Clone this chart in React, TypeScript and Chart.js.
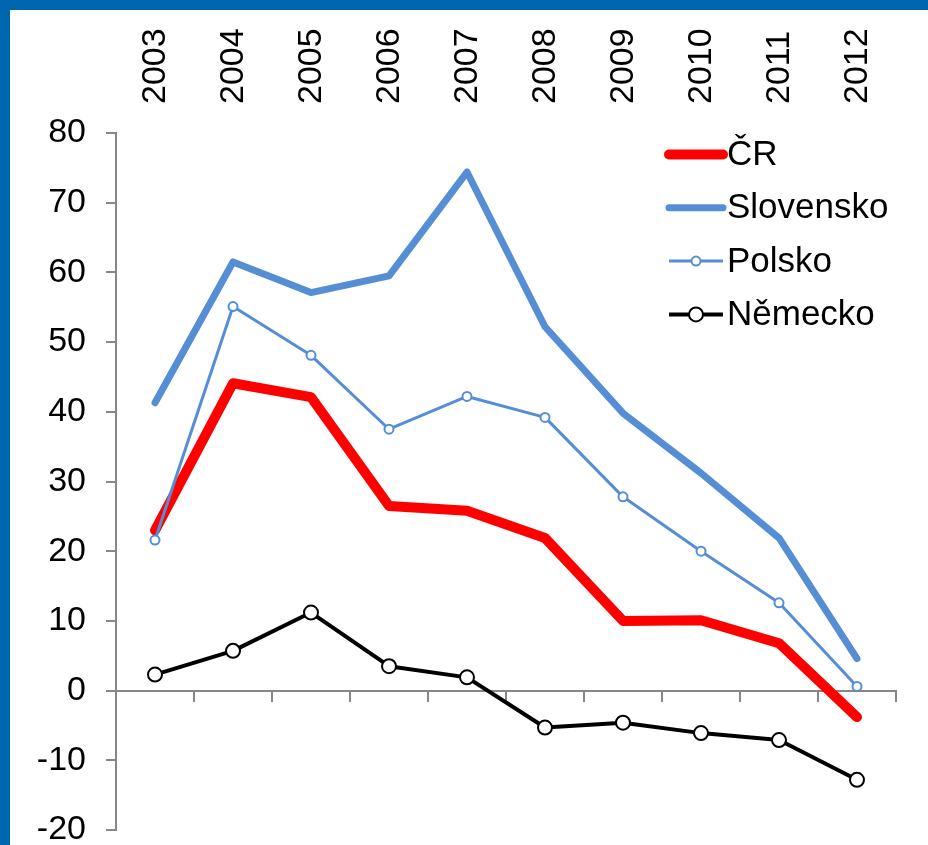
import React, { useEffect, useRef } from "react";
import { Chart, registerables } from "chart.js";

Chart.register(...registerables);

const years = ["2003", "2004", "2005", "2006", "2007", "2008", "2009", "2010", "2011", "2012"];
const cr = [23.0, 44.1, 42.1, 26.5, 25.8, 21.9, 10.0, 10.1, 6.8, -3.8];
const slovensko = [41.3, 61.5, 57.1, 59.5, 74.4, 52.2, 39.8, 31.2, 21.9, 4.6];
const polsko = [21.6, 55.1, 48.1, 37.5, 42.2, 39.2, 27.8, 20.0, 12.6, 0.6];
const nemecko = [2.3, 5.7, 11.2, 3.5, 1.9, -5.3, -4.6, -6.1, -7.1, -12.8];
const seriesNames = ["ČR", "Slovensko", "Polsko", "Německo"];
const yMin = -20;
const yMax = 80;
const yStep = 10;

const FONT = "'Liberation Sans', Arial, sans-serif";
const AXIS_GRAY = "#878787";
const BLUE = "#558ED5";

const legendPlugin = {
  id: "customLegend",
  afterDraw(chart: any) {
    const ctx = chart.ctx;
    const x0 = 659;
    const x1 = 713;
    const top = 144.5;
    const gap = 53.3;
    chart.data.datasets.forEach((ds: any, i: number) => {
      const y = top + i * gap;
      ctx.save();
      ctx.strokeStyle = ds.borderColor;
      ctx.lineWidth = ds.borderWidth;
      ctx.lineCap = ds.pointRadius > 0 ? "butt" : "round";
      ctx.beginPath();
      ctx.moveTo(x0, y);
      ctx.lineTo(x1, y);
      ctx.stroke();
      if (ds.pointRadius > 0) {
        ctx.beginPath();
        ctx.arc((x0 + x1) / 2, y, ds.pointRadius, 0, Math.PI * 2);
        ctx.fillStyle = ds.pointBackgroundColor;
        ctx.fill();
        ctx.lineWidth = ds.pointBorderWidth;
        ctx.strokeStyle = ds.pointBorderColor;
        ctx.stroke();
      }
      ctx.fillStyle = "#000";
      ctx.font = `35px ${FONT}`;
      ctx.textAlign = "left";
      ctx.textBaseline = "middle";
      ctx.fillText(ds.label, x1 + 4, y + 1);
      ctx.restore();
    });
  },
};

export default function App() {
  const ref = useRef<HTMLCanvasElement | null>(null);

  useEffect(() => {
    if (!ref.current) return;
    Chart.defaults.font.family = FONT;
    const chart = new Chart(ref.current, {
      type: "line",
      data: {
        labels: years,
        datasets: [
          {
            label: seriesNames[0],
            data: cr,
            order: 4,
            borderColor: "#FF0000",
            backgroundColor: "#FF0000",
            borderWidth: 10,
            pointRadius: 0,
            borderCapStyle: "round",
            borderJoinStyle: "round",
            tension: 0,
          },
          {
            label: seriesNames[1],
            data: slovensko,
            order: 3,
            borderColor: BLUE,
            backgroundColor: BLUE,
            borderWidth: 7,
            pointRadius: 0,
            borderCapStyle: "round",
            borderJoinStyle: "round",
            tension: 0,
          },
          {
            label: seriesNames[2],
            data: polsko,
            order: 2,
            borderColor: BLUE,
            backgroundColor: BLUE,
            borderWidth: 3,
            pointRadius: 4.5,
            pointBorderWidth: 2,
            pointBackgroundColor: "#FFFFFF",
            pointBorderColor: BLUE,
            borderJoinStyle: "round",
            tension: 0,
          },
          {
            label: seriesNames[3],
            data: nemecko,
            order: 1,
            borderColor: "#000000",
            backgroundColor: "#000000",
            borderWidth: 4,
            pointRadius: 7,
            pointBorderWidth: 2,
            pointBackgroundColor: "#FFFFFF",
            pointBorderColor: "#000000",
            borderJoinStyle: "round",
            tension: 0,
          },
        ],
      },
      options: {
        animation: false,
        responsive: false,
        layout: { padding: { left: 0, right: 32, top: 0, bottom: 15 } },
        plugins: {
          legend: { display: false },
          tooltip: { enabled: false },
        },
        scales: {
          x: {
            type: "category",
            position: "top",
            offset: true,
            grid: { display: false, drawTicks: false },
            border: { display: false },
            ticks: {
              color: "#000",
              font: { size: 34, family: FONT },
              minRotation: 90,
              maxRotation: 90,
              padding: 29,
              labelOffset: 41,
              autoSkip: false,
            },
            afterFit: (s: any) => {
              s.height = 123;
            },
          },
          x0: {
            type: "category",
            position: { y: 0 } as any,
            offset: true,
            grid: {
              display: true,
              offset: true,
              drawOnChartArea: false,
              drawTicks: true,
              tickLength: 10,
              color: AXIS_GRAY,
              lineWidth: 2,
            },
            border: { display: true, color: AXIS_GRAY, width: 2 },
            ticks: { display: false },
          },
          y: {
            type: "linear",
            position: "left",
            min: yMin,
            max: yMax,
            grid: {
              display: true,
              drawOnChartArea: false,
              drawTicks: true,
              tickLength: 10,
              color: AXIS_GRAY,
              lineWidth: 2,
            },
            border: { display: true, color: AXIS_GRAY, width: 2 },
            ticks: {
              stepSize: yStep,
              color: "#000",
              font: { size: 34, family: FONT, lineHeight: 0.8 },
              padding: 20,
            },
            afterFit: (s: any) => {
              s.width = 106;
              s.paddingTop = 12;
              s.paddingBottom = 12;
            },
          },
        },
      },
      plugins: [legendPlugin],
    } as any);
    return () => chart.destroy();
  }, []);

  return (
    <div
      style={{
        position: "fixed",
        left: 0,
        top: 0,
        width: 928,
        height: 845,
        boxSizing: "border-box",
        borderTop: "10px solid #0066AF",
        borderLeft: "10px solid #0066AF",
        background: "#FFFFFF",
        overflow: "hidden",
      }}
    >
      <canvas ref={ref} width={918} height={835} style={{ display: "block", width: 918, height: 835 }} />
    </div>
  );
}
